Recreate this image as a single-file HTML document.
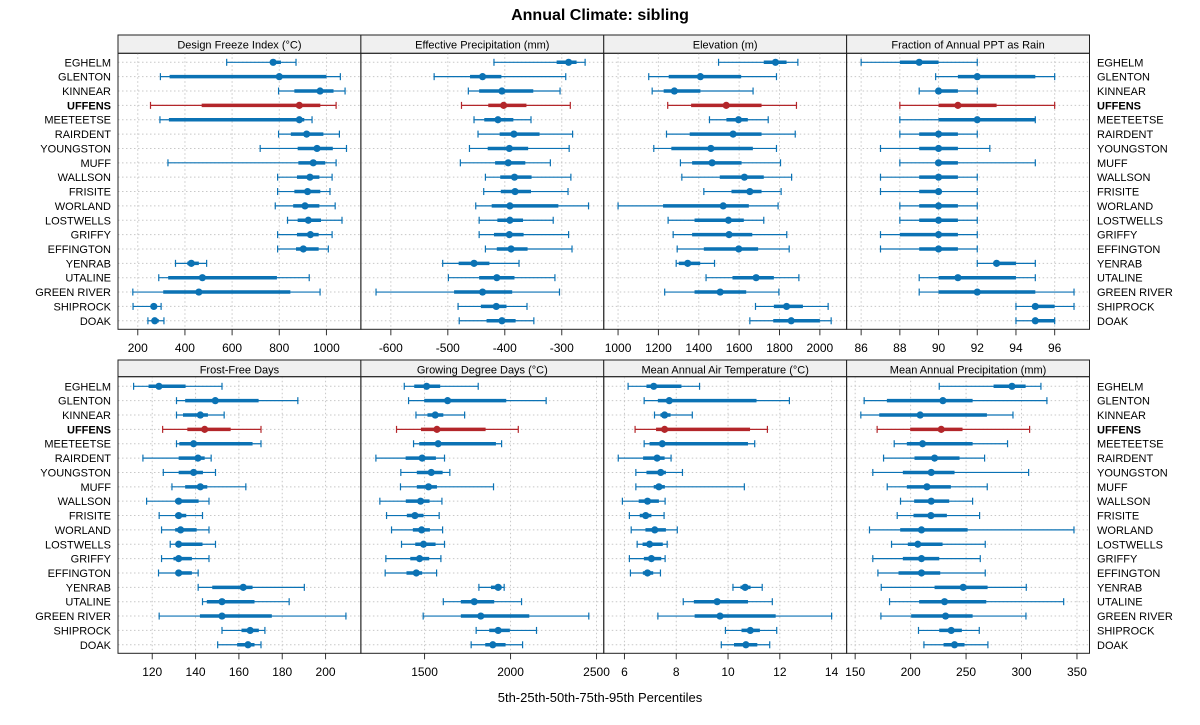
<!DOCTYPE html>
<html><head><meta charset="utf-8"><title>Annual Climate: sibling</title>
<style>
html,body{margin:0;padding:0;background:#fff;}
svg{display:block;font-family:"Liberation Sans",Arial,sans-serif;}
</style></head>
<body>
<svg id="chart" width="1200" height="725" viewBox="0 0 1200 725" xmlns="http://www.w3.org/2000/svg">
<text x="600" y="20" text-anchor="middle" font-size="16" font-weight="bold" fill="#000">Annual Climate: sibling</text>
<text x="600" y="702" text-anchor="middle" font-size="13" fill="#000">5th-25th-50th-75th-95th Percentiles</text>
</svg>
<script>
const sites = ["EGHELM","GLENTON","KINNEAR","UFFENS","MEETEETSE","RAIRDENT","YOUNGSTON","MUFF","WALLSON","FRISITE","WORLAND","LOSTWELLS","GRIFFY","EFFINGTON","YENRAB","UTALINE","GREEN RIVER","SHIPROCK","DOAK"];
const highlightSite = "UFFENS";
const panelTitles = ["Design Freeze Index (°C)","Effective Precipitation (mm)","Elevation (m)","Fraction of Annual PPT as Rain","Frost-Free Days","Growing Degree Days (°C)","Mean Annual Air Temperature (°C)","Mean Annual Precipitation (mm)"];
const panelDomains = [[116.2,1146],[-652.6,-226.3],[929.1,2132.6],[85.25,97.8],[104.2,216.3],[1129.7,2542],[5.2,14.58],[142.3,361.3]];
const panelTicks = [[200,400,600,800,1000],[-600,-500,-400,-300],[1000,1200,1400,1600,1800,2000],[86,88,90,92,94,96],[120,140,160,180,200],[1500,2000,2500],[6,8,10,12,14],[150,200,250,300,350]];
const dfiVals = [[577,764,774,807,871],[296,335,800,1000,1059],[797,864,973,1030,1079],[254,471,885,974,1041],[294,332,885,906,939],[797,849,916,987,1055],[719,878,960,1027,1085],[328,881,944,995,1041],[793,875,930,970,1024],[793,864,920,974,1015],[783,859,909,970,1037],[835,878,923,977,1066],[793,875,932,967,1024],[793,871,902,967,1008],[360,410,427,459,492],[289,329,474,790,927],[179,308,459,847,973],[180,254,268,279,299],[243,261,272,289,311]];
const effPptVals = [[-419,-309,-288,-274,-259],[-524,-461,-439,-406,-293],[-464,-445,-405,-350,-303],[-476,-429,-402,-362,-285],[-454,-436,-412,-385,-354],[-447,-409,-384,-339,-281],[-462,-430,-392,-359,-287],[-478,-417,-394,-364,-320],[-434,-408,-383,-353,-284],[-437,-407,-382,-354,-289],[-451,-423,-391,-306,-253],[-445,-413,-391,-368,-315],[-445,-419,-392,-367,-288],[-434,-414,-389,-360,-282],[-509,-481,-454,-427,-375],[-499,-445,-414,-383,-312],[-626,-489,-439,-387,-304],[-482,-442,-415,-397,-361],[-480,-432,-405,-381,-349]];
const elevVals = [[1498,1722,1780,1835,1891],[1152,1251,1408,1610,1785],[1169,1226,1279,1408,1669],[1246,1362,1536,1711,1884],[1453,1537,1597,1643,1744],[1240,1355,1570,1711,1878],[1177,1264,1460,1668,1785],[1309,1367,1466,1612,1805],[1316,1504,1626,1722,1860],[1425,1562,1653,1711,1808],[1000,1223,1521,1648,1793],[1248,1379,1547,1623,1722],[1273,1367,1550,1665,1836],[1293,1425,1598,1694,1848],[1288,1301,1345,1407,1478],[1436,1567,1684,1772,1896],[1231,1379,1506,1635,1797],[1681,1772,1835,1916,2041],[1653,1769,1858,2000,2056]];
const rainFracVals = [[86,88,89,90,92],[89.85,91,92,95,96],[89,90,90,91,92],[88,90,91,93,96],[88,90,92,95,95],[88,89,90,91,92],[87,89,90,91,92.65],[88,90,90,91,95],[87,89,90,91,92],[87,89,90,90,92],[88,89,90,91,92],[88,89,90,91,92],[87,88,90,91,92],[87,89,90,91,92],[92,93,93,94,95],[89,90,91,94,95],[89,90,92,95,97],[94,95,95,96,97],[94,95,95,96,96]];
const ffdVals = [[111.4,118.3,123.1,135.4,152.2],[131.2,135.2,149.1,169.1,187.2],[131.2,134.2,142.2,145.7,153.2],[124.8,136.2,144.2,156.2,170.2],[131.2,132.5,139.1,166.3,170.2],[115.7,132.2,141.1,144.2,147.2],[125.1,132.2,139.1,143.4,149.2],[129.1,135.2,142.2,145.4,163.2],[117.4,130.6,132.2,141.4,146.2],[123.2,130.6,132.2,135.7,143.2],[124.3,130.6,133.1,140.5,146.2],[128.3,131.1,132.2,143.2,149.2],[124.3,129.8,132.2,138.3,146.2],[122.9,131.2,132.2,138.3,141.2],[141.2,147.7,162,166.3,190.2],[143.2,145.2,152.2,167.2,183.2],[123.2,142,152.2,175.2,209.4],[152.2,161.2,165.2,169.2,172],[150.2,159.2,164.2,167.2,170.2]];
const gddVals = [[1382,1440,1512,1591,1812],[1407,1498,1634,1975,2207],[1450,1517,1562,1609,1733],[1337,1479,1572,1855,2045],[1436,1469,1579,1915,1948],[1217,1390,1486,1566,1616],[1362,1455,1539,1605,1647],[1360,1455,1523,1572,1901],[1240,1391,1477,1529,1601],[1279,1397,1444,1494,1585],[1308,1432,1483,1531,1605],[1366,1446,1494,1564,1616],[1275,1417,1471,1527,1595],[1271,1395,1452,1486,1570],[1816,1886,1928,1948,1963],[1609,1711,1789,1905,2064],[1492,1711,1827,2109,2455],[1800,1876,1928,1996,2151],[1771,1853,1897,1971,2070]];
const maatVals = [[6.14,6.85,7.13,8.20,8.90],[6.76,7.29,7.73,11.10,12.37],[7.16,7.39,7.55,7.78,8.62],[6.41,7.22,7.55,10.85,11.52],[6.76,6.97,7.46,10.77,11.03],[5.76,6.72,7.26,7.55,7.80],[6.44,6.85,7.40,7.60,8.24],[6.44,7.13,7.33,7.56,10.63],[5.92,6.55,6.89,7.33,7.57],[6.19,6.59,6.82,7.04,7.53],[6.26,6.81,7.17,7.60,8.04],[6.49,6.70,6.97,7.48,7.65],[6.19,6.75,7.04,7.42,7.57],[6.23,6.71,6.89,7.11,7.39],[10.19,10.48,10.66,10.87,11.32],[8.27,8.68,9.58,10.77,11.71],[7.29,8.71,9.69,11.84,14.0],[9.90,10.52,10.86,11.23,11.88],[9.74,10.23,10.69,11.13,11.61]];
const mapVals = [[225.8,274.8,291.4,303.7,317.5],[158.1,178.6,229.1,255.9,322.9],[155.1,171.7,208.6,268.8,292.3],[169.8,199.6,227.6,246.8,307.3],[185.2,196.6,210.8,255.9,287.4],[175.6,203.5,221.6,244.1,266.7],[165.9,193,218.6,239.6,306.4],[178.9,196.6,214.7,236.3,269.1],[190.9,203.2,218.6,234.8,255.9],[187.9,202.6,218.3,232.7,262.2],[162.9,190.6,209.8,251.4,347.3],[182.8,197.5,206.5,228.8,267.3],[165.9,193,209.8,225.8,262.8],[170.5,189.1,209.8,226.7,267.3],[173.5,221.6,247.4,269.4,304.3],[181,207.7,230.6,268.2,338],[173.2,200.5,231.5,255.9,304],[207.1,225.8,236.6,246.2,261.9],[212,229.7,239.6,248.6,269.7]];
const allPanelVals = [dfiVals,effPptVals,elevVals,rainFracVals,ffdVals,gddVals,maatVals,mapVals];

const NS = "http://www.w3.org/2000/svg";
const svg = document.getElementById("chart");
function mk(tag, attrs, parent){const e=document.createElementNS(NS,tag);for(const k in attrs)e.setAttribute(k,attrs[k]);(parent||svg).appendChild(e);return e;}

const L = 118, R = 1089.5;
const PW = (R - L) / 4;
const rowsTop = [{strip:35, plotTop:53.3, plotBot:329.3, y0:62.3, tickY:348},
                 {strip:360, plotTop:376.7, plotBot:653.3, y0:386.3, tickY:672}];
const rowStep = 14.36;
const BLUE = "#0b72b4", RED = "#b3262a";

rowsTop.forEach((r, ri) => {
  sites.forEach((s, i) => {
    const y = r.y0 + i * rowStep;
    const bold = s === highlightSite ? "bold" : "normal";
    const tl = mk("text", {x:111, y:y+4, "text-anchor":"end", "font-size":11, "font-weight":bold, fill:"#000"});
    tl.textContent = s;
    
    
    const tr = mk("text", {x:1097, y:y+4, "text-anchor":"start", "font-size":11, "font-weight":bold, fill:"#000"});
    tr.textContent = s;
    
    
  });
});

for (let p = 0; p < 8; p++) {
  const r = rowsTop[Math.floor(p / 4)];
  const x0 = L + (p % 4) * PW, x1 = x0 + PW;
  const dom = panelDomains[p];
  const sx = v => x0 + (v - dom[0]) / (dom[1] - dom[0]) * PW;
  const g = mk("g", {});
  
  
  const st = mk("rect", {x:x0, y:r.strip, width:PW, height:r.plotTop - r.strip, fill:"#f0f0f0", stroke:"#222", "stroke-width":1}, g);
  
  
  const stt = mk("text", {x:x0 + PW/2, y:r.strip + 13.5, "text-anchor":"middle", "font-size":11, fill:"#000"}, g);
  stt.textContent = panelTitles[p];
  
  
  sites.forEach((s, i) => {
    const y = r.y0 + i * rowStep;
    const gl = mk("line", {x1:x0, x2:x1, y1:y, y2:y, stroke:"#c8c8c8", "stroke-width":1, "stroke-dasharray":"1.5,2.5"}, g);
    
    
  });
  panelTicks[p].forEach(t => {
    const x = sx(t);
    const vl = mk("line", {x1:x, x2:x, y1:r.plotTop, y2:r.plotBot, stroke:"#c8c8c8", "stroke-width":1, "stroke-dasharray":"1.5,2.5"}, g);
    
    
    const tk = mk("line", {x1:x, x2:x, y1:r.plotBot, y2:r.plotBot + 6, stroke:"#333", "stroke-width":1}, g);
    
    
    const tt = mk("text", {x:x, y:r.tickY + 4, "text-anchor":"middle", "font-size":12, fill:"#000"}, g);
    tt.textContent = String(t);
    
    
  });
  allPanelVals[p].forEach((v, i) => {
    const y = r.y0 + i * rowStep;
    const c = sites[i] === highlightSite ? RED : BLUE;
    const w = mk("line", {x1:sx(v[0]), x2:sx(v[4]), y1:y, y2:y, stroke:c, "stroke-width":1.2}, g);
    
    
    [v[0], v[4]].forEach(cv => {
      const cap = mk("line", {x1:sx(cv), x2:sx(cv), y1:y-3.5, y2:y+3.5, stroke:c, "stroke-width":1.2}, g);
      
      
    });
    const b = mk("line", {x1:sx(v[1]), x2:sx(v[3]), y1:y, y2:y, stroke:c, "stroke-width":3.5}, g);
    
    
    const d = mk("circle", {cx:sx(v[2]), cy:y, r:3.6, fill:c}, g);
    
    
  });
  const fr = mk("rect", {x:x0, y:r.plotTop, width:PW, height:r.plotBot - r.plotTop, fill:"none", stroke:"#222", "stroke-width":1}, g);
  
  
}
</script>
</body></html>
